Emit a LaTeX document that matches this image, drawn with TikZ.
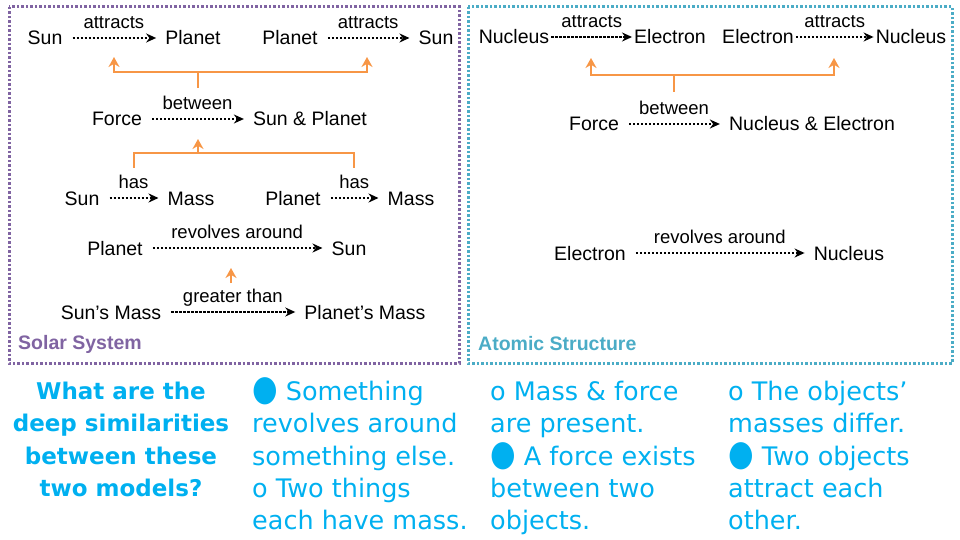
\documentclass[tikz,border=0pt]{standalone}
\usepackage{fontspec}
\setmainfont{Liberation Sans}
\newfontfamily\handfont{DejaVu Sans}
\usetikzlibrary{arrows.meta}
\definecolor{solarpurple}{HTML}{8064A2}
\definecolor{atomteal}{HTML}{4BACC6}
\definecolor{linkorange}{HTML}{F79646}
\definecolor{notecyan}{HTML}{00B0F0}
\newcommand{\dotbullet}{\smash{\scalebox{1.15}[1.4]{●}}}

\begin{document}
\begin{tikzpicture}[x=1pt, y=-1pt,
		concept/.style={inner xsep=1pt, inner ysep=0pt, text height=14pt, text depth=0pt, font=\fontsize{19.5}{22}\selectfont},
		rel/.style={line width=2.5pt, dash pattern=on 2.2pt off 1.8pt, -{Stealth[length=10pt, width=9pt]}, shorten <=9pt, shorten >=8pt},
		tight/.style={shorten <=1pt, shorten >=1pt},
		relname/.style={above=6pt, inner sep=2pt, text depth=0pt, font=\fontsize{18.5}{20}\selectfont},
		link/.style={linkorange, line width=2.5pt},
		linkup/.style={link, -{Stealth[length=10pt, width=11pt]}},
		frame/.style={line width=3pt, dash pattern=on 2.5pt off 2pt},
		boxtitle/.style={anchor=west, inner sep=0pt, font=\fontsize{19.5}{22}\selectfont\bfseries},
		note/.style={anchor=north west, inner sep=0pt, align=left, text=notecyan, font=\handfont\fontsize{25.5}{32.3}\selectfont}]
	\useasboundingbox (0, 0) rectangle (960, 540);
	\begin{scope}
		\draw [frame, solarpurple] (9, 7) rectangle (459, 363);
		\node [boxtitle, solarpurple] (solartitle) at (18, 344) {Solar System};
		\node [concept] (sunA) at (45, 38) {Sun};
		\node [concept] (planetA) at (193, 38) {Planet};
		\node [concept] (planetB) at (290, 38) {Planet};
		\node [concept] (sunB) at (436, 38) {Sun};
		\draw [rel] (sunA) -- node [relname] {attracts} (planetA);
		\draw [rel] (planetB) -- node [relname] {attracts} (sunB);
		\node [concept] (forceA) at (117, 119) {Force};
		\node [concept] (sunplanet) at (310, 119) {Sun \& Planet};
		\draw [rel] (forceA) -- node [relname] {between} (sunplanet);
		\node [concept] (sunC) at (82, 198) {Sun};
		\node [concept] (massA) at (191, 198) {Mass};
		\node [concept] (planetC) at (293, 198) {Planet};
		\node [concept] (massB) at (411, 198) {Mass};
		\draw [rel] (sunC) -- node [relname] {has} (massA);
		\draw [rel] (planetC) -- node [relname] {has} (massB);
		\node [concept] (planetD) at (115, 248) {Planet};
		\node [concept] (sunD) at (349, 248) {Sun};
		\draw [rel] (planetD) -- node [relname] {revolves around} (sunD);
		\node [concept] (sunmass) at (111, 312) {Sun’s Mass};
		\node [concept] (planetmass) at (365, 312) {Planet’s Mass};
		\draw [rel] (sunmass) -- node [relname] {greater than} (planetmass);
		\coordinate (stemA) at (198, 88);
		\coordinate (joinA) at (198, 72);
		\coordinate (tipA1) at (114, 57);
		\coordinate (tipA2) at (367, 57);
		\draw [linkup] (stemA) -- (joinA) -| (tipA1);
		\draw [linkup] (joinA) -| (tipA2);
		\coordinate (legB1) at (134, 168);
		\coordinate (legB2) at (354, 168);
		\coordinate (midB) at (198, 153);
		\coordinate (tipB) at (198, 139);
		\draw [link] (legB1) |- (midB) -| (legB2);
		\draw [linkup] (midB) -- (tipB);
		\coordinate (stemC) at (231, 283);
		\coordinate (tipC) at (231, 268);
		\draw [linkup] (stemC) -- (tipC);
	\end{scope}
	\begin{scope}
		\draw [frame, atomteal] (468, 7) rectangle (952, 363);
		\node [boxtitle, atomteal] (atomtitle) at (478, 344) {Atomic Structure};
		\node [concept] (nucA) at (514, 37) {Nucleus};
		\node [concept] (elecA) at (670, 37) {Electron};
		\node [concept] (elecB) at (758, 37) {Electron};
		\node [concept] (nucB) at (911, 37) {Nucleus};
		\draw [rel, tight] (nucA) -- node [relname] {attracts} (elecA);
		\draw [rel, tight] (elecB) -- node [relname] {attracts} (nucB);
		\node [concept] (forceB) at (594, 124) {Force};
		\node [concept] (nucelec) at (812, 124) {Nucleus \& Electron};
		\draw [rel] (forceB) -- node [relname] {between} (nucelec);
		\node [concept] (elecC) at (590, 253) {Electron};
		\node [concept] (nucC) at (849, 253) {Nucleus};
		\draw [rel] (elecC) -- node [relname] {revolves around} (nucC);
		\coordinate (stemD) at (674, 92);
		\coordinate (joinD) at (674, 75);
		\coordinate (tipD1) at (591, 58);
		\coordinate (tipD2) at (834, 58);
		\draw [linkup] (stemD) -- (joinD) -| (tipD1);
		\draw [linkup] (joinD) -| (tipD2);
	\end{scope}
	\node [note, anchor=north, align=center, font=\handfont\bfseries\fontsize{23}{32.3}\selectfont] (question) at (121, 382) {What are the\\deep similarities\\between these\\two models?};
	\node [note] (noteA) at (252, 381) {\dotbullet\ Something\\revolves around\\something else.\\o Two things\\each have mass.};
	\node [note] (noteB) at (490, 381) {o Mass \& force\\are present.\\\dotbullet\ A force exists\\between two\\objects.};
	\node [note] (noteC) at (728, 381) {o The objects’\\masses differ.\\\dotbullet\ Two objects\\attract each\\other.};
\end{tikzpicture}
\end{document}
